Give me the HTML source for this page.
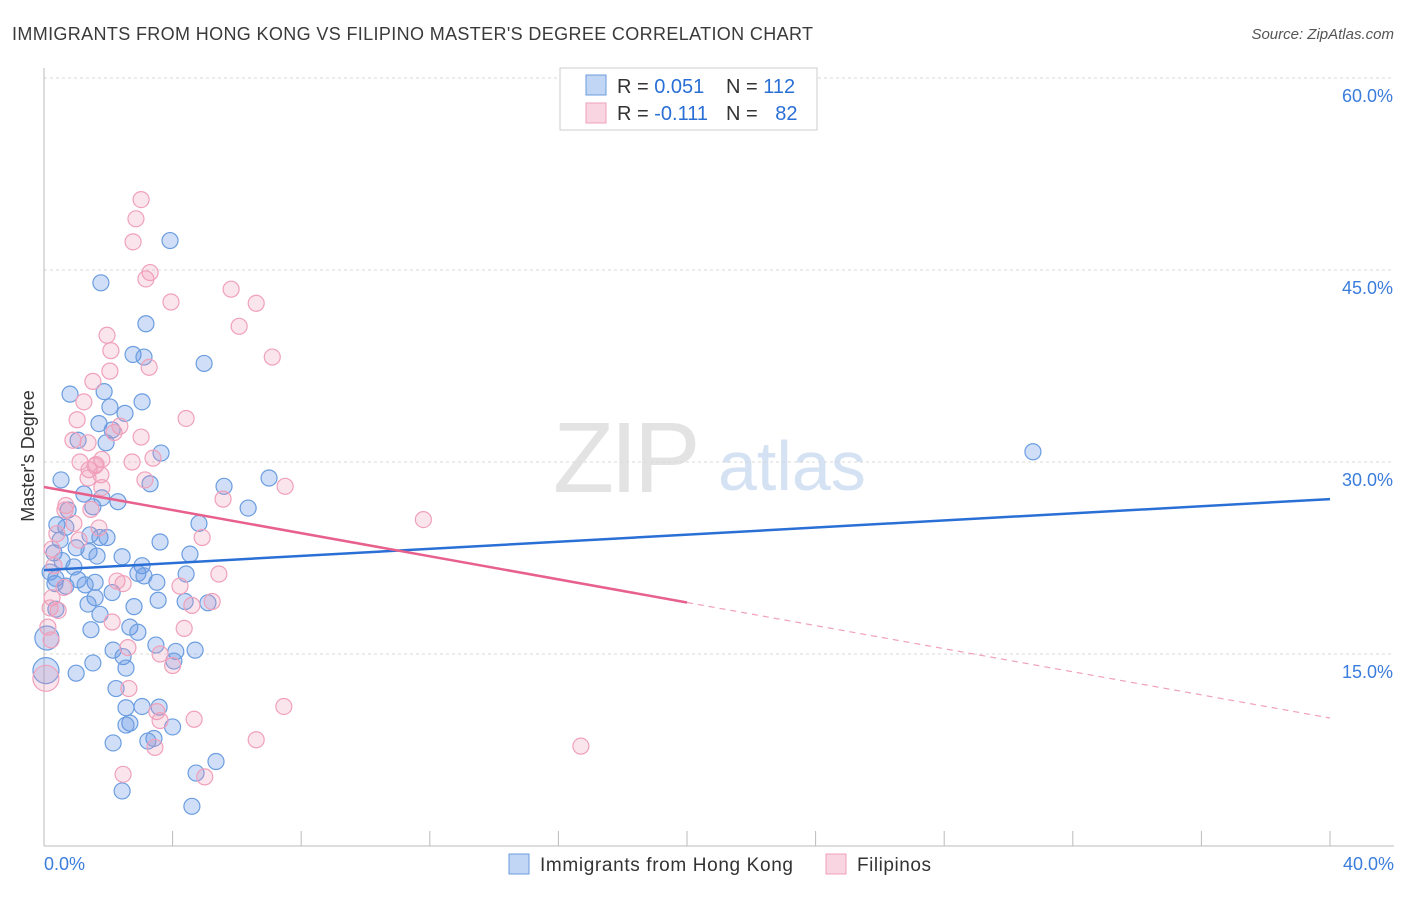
<!DOCTYPE html>
<html><head><meta charset="utf-8"><style>
body{margin:0;background:#fff;font-family:"Liberation Sans",sans-serif;}
svg text{font-family:"Liberation Sans",sans-serif;}
</style></head><body>
<svg id="chart" width="1406" height="892" xmlns="http://www.w3.org/2000/svg">
<text x="12" y="40" font-size="18" fill="#3a3a3a" textLength="801" lengthAdjust="spacing">IMMIGRANTS FROM HONG KONG VS FILIPINO MASTER'S DEGREE CORRELATION CHART</text>
<text x="1394" y="39" font-size="15" fill="#555" text-anchor="end" font-style="italic">Source: ZipAtlas.com</text>
<g>
<text x="553" y="492" font-size="100" fill="#e3e3e3" font-family="Liberation Serif" letter-spacing="-4">ZIP</text>
<text x="718" y="490" font-size="70" fill="#d4e2f4">atlas</text>
</g>
<g id="grid"></g>
<g id="axes"></g>
<g id="marks"></g>
<text transform="translate(34,456) rotate(-90)" font-size="18" fill="#333" text-anchor="middle">Master's Degree</text>
<g>
<rect x="560" y="68" width="257" height="62" fill="#fff" stroke="#ccc"/>
<rect x="586" y="75" width="20" height="20" fill="rgba(100,150,230,0.4)" stroke="#6b9de0"/>
<rect x="586" y="103" width="20" height="20" fill="rgba(240,150,180,0.4)" stroke="#f0a0bb"/>
<text x="617" y="93" font-size="20" fill="#333">R = <tspan fill="#2a6fd6">0.051</tspan></text>
<text x="726" y="93" font-size="20" fill="#333">N = <tspan fill="#2a6fd6">112</tspan></text>
<text x="617" y="120" font-size="20" fill="#333">R = <tspan fill="#2a6fd6">-0.111</tspan></text>
<text x="726" y="120" font-size="20" fill="#333">N = <tspan fill="#2a6fd6" dx="12">82</tspan></text>
</g>
<g>
<rect x="509" y="854" width="20" height="20" fill="rgba(100,150,230,0.4)" stroke="#6b9de0"/>
<text x="540" y="871" font-size="19" fill="#333" textLength="253" lengthAdjust="spacing">Immigrants from Hong Kong</text>
<rect x="826" y="854" width="20" height="20" fill="rgba(240,150,180,0.4)" stroke="#f0a0bb"/>
<text x="857" y="871" font-size="19" fill="#333" textLength="74" lengthAdjust="spacing">Filipinos</text>
</g>
</svg>
<script>
const yTicks=[15,30,45,60];
const yTickLabels=["15.0%","30.0%","45.0%","60.0%"];
const xTickLabels=["0.0%","40.0%"];
const blueX=[3.92,1.77,3.17,2.77,3.11,4.98,0.81,1.87,3.05,2.05,2.52,1.71,2.12,1.06,1.93,3.64,30.76,0.53,3.30,5.6,7.0,1.24,1.80,2.30,6.35,0.75,1.52,4.82,0.40,0.68,1.43,1.74,1.96,0.5,3.61,1.00,0.31,1.40,4.54,2.43,1.65,0.56,3.05,0.93,0.19,2.92,4.42,0.37,3.11,1.06,1.59,3.51,0.34,0.68,1.28,2.12,1.59,3.55,4.39,5.1,1.37,2.80,0.37,1.74,2.67,1.46,2.92,0.09,3.48,2.15,4.1,4.7,2.46,1.52,4.04,0.06,1.00,2.55,2.24,3.05,2.55,3.58,2.67,2.55,4.0,3.42,3.23,2.15,5.35,4.73,2.43,4.6];
const blueY=[47.3,44.0,40.8,38.4,38.2,37.7,35.3,35.5,34.7,34.3,33.8,33.0,32.5,31.7,31.5,30.7,30.8,28.6,28.3,28.1,28.75,27.5,27.2,26.9,26.4,26.25,26.5,25.2,25.1,24.9,24.3,24.1,24.1,23.9,23.75,23.3,22.9,23.0,22.8,22.6,22.65,22.3,21.9,21.8,21.4,21.3,21.25,20.9,21.1,20.8,20.6,20.6,20.5,20.3,20.4,19.8,19.4,19.2,19.1,19.0,18.9,18.7,18.5,18.1,17.1,16.9,16.7,16.25,15.7,15.3,15.2,15.3,14.8,14.3,14.45,13.7,13.5,13.9,12.3,10.9,10.8,10.85,9.6,9.45,9.3,8.4,8.2,8.05,6.6,5.7,4.3,3.1];
const blueSize=[8,8,8,8,8,8,8,8,8,8,8,8,8,8,8,8,8,8,8,8,8,8,8,8,8,8,8,8,8,8,8,8,8,8,8,8,8,8,8,8,8,8,8,8,8,8,8,8,8,8,8,8,8,8,8,8,8,8,8,8,8,8,8,8,8,8,8,12,8,8,8,8,8,8,8,13,8,8,8,8,8,8,8,8,8,8,8,8,8,8,8,8];
const pinkX=[3.02,2.86,2.77,3.3,3.17,3.95,5.82,6.6,6.07,1.96,2.08,7.1,3.27,2.05,1.52,1.24,1.03,4.42,2.36,2.18,3.02,0.9,1.37,3.39,2.74,1.12,1.80,1.62,1.40,1.59,1.37,1.77,3.14,7.5,5.57,1.80,0.68,0.65,1.46,11.8,0.93,1.71,0.40,4.92,1.09,0.25,0.31,5.44,2.27,2.46,4.23,0.62,0.25,4.6,5.23,0.19,0.44,2.12,4.36,0.12,0.22,2.61,3.61,4.0,0.06,2.64,7.46,3.51,3.61,4.67,6.6,3.45,16.7,2.46,5.0];
const pinkY=[50.5,49.0,47.2,44.8,44.3,42.5,43.5,42.4,40.6,39.9,38.7,38.2,37.4,37.1,36.3,34.7,33.3,33.4,32.8,32.3,31.95,31.7,31.5,30.3,30.0,30.0,30.2,29.8,29.4,29.7,28.75,29.0,28.6,28.1,27.1,28.0,26.6,26.25,26.3,25.5,25.2,24.85,24.4,24.1,23.9,23.2,21.9,21.25,20.7,20.5,20.3,20.2,19.4,18.8,19.1,18.6,18.4,17.5,17.0,17.1,16.1,15.5,15.0,14.1,13.1,12.3,10.9,10.5,9.8,9.9,8.3,7.7,7.8,5.6,5.4];
const blueTrend=[21.55,27.1];
const pinkTrend=[28.05,10.0];
const pinkSolidEnd=20;

const X0=44,X1=1330,YB=846;
const sx=v=>X0+(v/40)*(X1-X0);
const sy=v=>YB-v*12.8;
const NS="http://www.w3.org/2000/svg";
function mk(tag,attrs,parent){const e=document.createElementNS(NS,tag);for(const k in attrs)e.setAttribute(k,attrs[k]);parent.appendChild(e);return e;}
const grid=document.getElementById('grid'),axes=document.getElementById('axes'),marks=document.getElementById('marks');
yTicks.forEach((t,i)=>{
  const l=mk('line',{x1:X0,x2:1394,y1:sy(t),y2:sy(t),stroke:'#d8d8d8','stroke-dasharray':'3,3'},grid);
  
  
  const tx=mk('text',{x:1393,y:sy(t)+24,'font-size':18,fill:'#3b7ddd','text-anchor':'end'},axes);
  tx.textContent=yTickLabels[i];
  
  
});
const la=mk('line',{x1:X0,x2:X0,y1:68,y2:846,stroke:'#bbb'},axes);


const ba=mk('line',{x1:X0,x2:1394,y1:846,y2:846,stroke:'#bbb'},axes);


for(let i=0;i<=10;i++){
  const t=mk('line',{x1:sx(i*4),x2:sx(i*4),y1:831,y2:846,stroke:'#bbb'},axes);
  
  
}
[[0,'start',44],[40,'end',1394]].forEach((d,i)=>{
  const tx=mk('text',{x:d[2],y:870,'font-size':18,fill:'#3b7ddd','text-anchor':d[1]},axes);
  tx.textContent=xTickLabels[i];
  
  
});
blueX.forEach((x,i)=>{
  const c=mk('circle',{cx:sx(x),cy:sy(blueY[i]),r:blueSize[i],fill:'rgba(100,150,230,0.3)',stroke:'#6b9de0','stroke-width':1.2},marks);
  
  
});
pinkX.forEach((x,i)=>{
  const c=mk('circle',{cx:sx(x),cy:sy(pinkY[i]),r:x<0.1?13:8,fill:'rgba(240,150,180,0.25)',stroke:'#f0a0bb','stroke-width':1.2},marks);
  
  
});
const bl=mk('line',{x1:sx(0),y1:sy(blueTrend[0]),x2:sx(40),y2:sy(blueTrend[1]),stroke:'#2a6fd6','stroke-width':2.5},marks);


const pm=pinkTrend[0]+(pinkTrend[1]-pinkTrend[0])*pinkSolidEnd/40;
const pl=mk('line',{x1:sx(0),y1:sy(pinkTrend[0]),x2:sx(pinkSolidEnd),y2:sy(pm),stroke:'#e8608c','stroke-width':2.5},marks);


const pd=mk('line',{x1:sx(pinkSolidEnd),y1:sy(pm),x2:sx(40),y2:sy(pinkTrend[1]),stroke:'#f0a0bb','stroke-width':1.2,'stroke-dasharray':'6,5'},marks);


</script>
</body></html>
